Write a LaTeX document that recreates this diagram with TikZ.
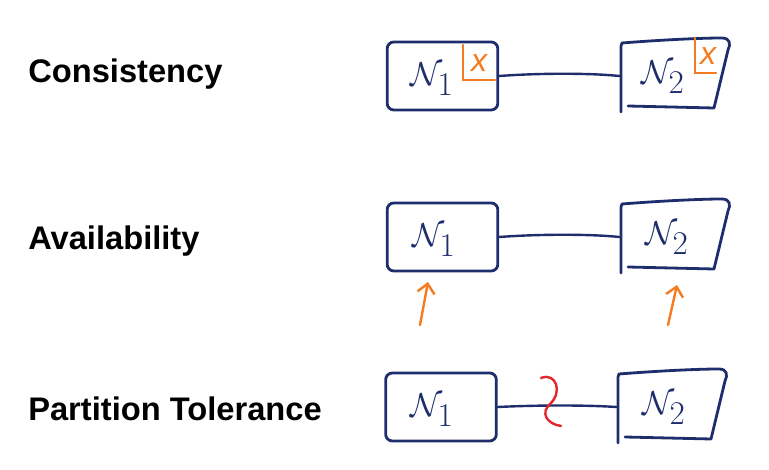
\documentclass[tikz,border=0pt]{standalone}
\usepackage{fontspec}
\setmainfont{Liberation Sans}
\usetikzlibrary{arrows.meta}
\definecolor{navy}{HTML}{1E2E6C}
\definecolor{orng}{HTML}{F47B20}
\definecolor{redd}{HTML}{E5262B}
\tikzset{
  px/.style={x=0.75pt,y=-0.75pt},
  hand/.style={draw=navy,line width=2.1pt,line cap=round,line join=round},
  nonebox/.style={minimum width=83pt,minimum height=51pt,inner sep=0pt},
  n1box/.style={nonebox,hand,rounded corners=5pt},
  ntext/.style={text=navy,font=\fontsize{36}{38}\selectfont,inner sep=0pt},
  lbl/.style={anchor=base west,font=\fontsize{24.5}{28}\selectfont\bfseries,inner sep=0pt},
  link/.style={hand,line width=1.8pt},
  orline/.style={draw=orng,line width=1.8pt,line cap=round},
  xtext/.style={text=orng,font=\fontsize{24}{24}\selectfont\itshape,inner sep=0pt},
  uparrow/.style={draw=orng,line width=1.8pt,line cap=round,-{Straight Barb[length=7pt,width=13pt,line width=1.8pt]}}
}
\begin{document}
\begin{tikzpicture}[px]
\useasboundingbox (0,0) rectangle (769,470);
% labels
\node[lbl] (l1) at (28,83) {Consistency};
\node[lbl] (l2) at (28,250) {Availability};
\node[lbl] (l3) at (28,421) {Partition Tolerance};

% ---------- row 1
\node[n1box] (a1) at (442.5,76) {};
\node[nonebox] (b1) at (675,76) {};
\draw[hand] (621,112) -- (621,46) -- (622,43) .. controls (660,40) and (700,38) .. (722,38)
  .. controls (730,38) and (731,44) .. (728,50) -- (714,108) -- (628,106);
\node[ntext] (t1) at (432,79) {$\mathcal{N}_{1}$};
\node[ntext] (u1) at (663,77) {$\mathcal{N}_{2}$};
\draw[link] (a1.east) .. controls (540,73) and (590,73) .. (b1.west);
\draw[orline] (463,45) -- (463,80) -- (495,80);
\node[xtext] (x1) at (479,63) {x};
\draw[orline] (695,38) -- (695,73) -- (716,73);
\node[xtext] (x2) at (708,56) {x};

% ---------- row 2
\node[n1box] (a2) at (442.5,237) {};
\node[nonebox] (b2) at (675,237) {};
\draw[hand] (621,273) -- (621,207) -- (622,204) .. controls (660,201) and (700,199) .. (722,199)
  .. controls (730,199) and (731,205) .. (728,211) -- (714,269) -- (628,267);
\node[ntext] (t2) at (434,240) {$\mathcal{N}_{1}$};
\node[ntext] (u2) at (667,238) {$\mathcal{N}_{2}$};
\draw[link] (a2.east) .. controls (540,234) and (590,234) .. (b2.west);
\coordinate (p1) at (420,325);
\coordinate (q1) at (428,282);
\coordinate (p2) at (668,325);
\coordinate (q2) at (677,285);
\draw[uparrow] (p1) -- (q1);
\draw[uparrow] (p2) -- (q2);

% ---------- row 3
\node[n1box] (a3) at (441,407) {};
\node[nonebox] (b3) at (672,407) {};
\draw[hand] (618,443) -- (618,377) -- (619,374) .. controls (657,371) and (697,369) .. (719,369)
  .. controls (727,369) and (728,375) .. (725,381) -- (711,439) -- (625,437);
\node[ntext] (t3) at (432,410) {$\mathcal{N}_{1}$};
\node[ntext] (u3) at (664,408) {$\mathcal{N}_{2}$};
\draw[link] (a3.east) .. controls (540,405) and (585,405) .. (b3.west);
\coordinate (s1) at (541,378);
\coordinate (s2) at (561,426);
\draw[draw=redd,line width=1.8pt,line cap=round] (s1) .. controls (556,372) and (563,392) .. (550,404)
  .. controls (540,413) and (547,424) .. (s2);
\end{tikzpicture}
\end{document}
